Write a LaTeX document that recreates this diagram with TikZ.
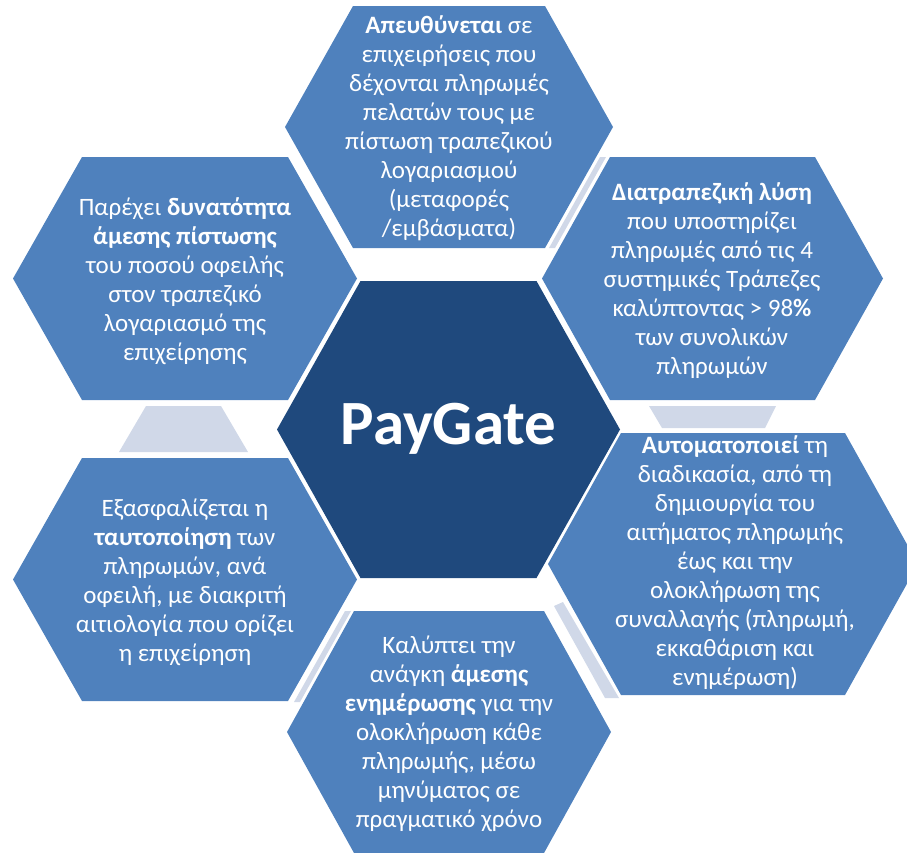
\documentclass[tikz,border=0pt]{standalone}
\usepackage{fontspec}
\setmainfont{Carlito}
\definecolor{hexblue}{RGB}{79,129,189}
\definecolor{hexdark}{RGB}{31,73,125}
\definecolor{connfill}{RGB}{208,216,232}
\newcommand\hexpath[5]{(#1-#3,#2) -- (#1-#3+#5,#2-#4) -- (#1+#3-#5,#2-#4) -- (#1+#3,#2) -- (#1+#3-#5,#2+#4) -- (#1-#3+#5,#2+#4) -- cycle}
\begin{document}
\begin{tikzpicture}[x=1pt,y=-1pt,
  outerhex/.style={fill=hexblue},
  centerhex/.style={fill=hexdark},
  connshape/.style={fill=connfill},
  txt/.style={text=white,align=center,inner sep=0pt,font=\fontsize{25}{29}\selectfont},
  bigtxt/.style={text=white,inner sep=0pt,font=\fontsize{63}{72}\selectfont\bfseries}]
\clip (0,0) rectangle (907,852);
% connectors
\fill[connshape] (146,406) -- (221,406) -- (248,452) -- (119,452) -- cycle;
\fill[connshape] (649,406) -- (776,406) -- (765,428) -- (662,428) -- cycle;
\fill[connshape] (600,157) -- (606,157) -- (555,248) -- (549,248) -- cycle;
\fill[connshape] (345,611) -- (351,611) -- (300,702) -- (294,702) -- cycle;
\fill[connshape] (554,606) -- (563,602) -- (619,698) -- (605,698) -- cycle;
% hexagons
\fill[centerhex] \hexpath{448.5}{429.5}{171.5}{148.5}{83.5};
\fill[outerhex] \hexpath{449}{127}{164}{121}{68};
\fill[outerhex] \hexpath{712.5}{278.5}{170.5}{121.5}{68};
\fill[outerhex] \hexpath{185}{278.5}{172}{121.5}{69};
\fill[outerhex] \hexpath{185}{579.5}{172}{121.5}{69};
\fill[outerhex] \hexpath{449}{732}{162}{121}{67};
\fill[outerhex] \hexpath{733}{564}{185}{131}{73};
% texts
\node[bigtxt] (pg) at (448.5,429) {PayGate};
\node[txt] (t1) at (449,128) {\textbf{Απευθύνεται} σε\\επιχειρήσεις που\\δέχονται πληρωμές\\πελατών τους με\\πίστωση τραπεζικού\\λογαριασμού\\(μεταφορές\\/εμβάσματα)};
\node[txt] (t2) at (712,281) {\textbf{Διατραπεζική λύση}\\που υποστηρίζει\\πληρωμές από τις 4\\συστημικές Τράπεζες\\καλύπτοντας > 98\textbf{\%}\\των συνολικών\\πληρωμών};
\node[txt] (t4) at (185,281) {Παρέχει \textbf{δυνατότητα}\\\textbf{άμεσης πίστωσης}\\του ποσού οφειλής\\στον τραπεζικό\\λογαριασμό της\\επιχείρησης};
\node[txt] (t5) at (185,582) {Εξασφαλίζεται η\\\textbf{ταυτοποίηση} των\\πληρωμών, ανά\\οφειλή, με διακριτή\\αιτιολογία που ορίζει\\η επιχείρηση};
\node[txt] (t6) at (449,734) {Καλύπτει την\\ανάγκη \textbf{άμεσης}\\\textbf{ενημέρωσης} για την\\ολοκλήρωση κάθε\\πληρωμής, μέσω\\μηνύματος σε\\πραγματικό χρόνο};
\node[txt] (t7) at (735,563) {\textbf{Αυτοματοποιεί} τη\\διαδικασία, από τη\\δημιουργία του\\αιτήματος πληρωμής\\έως και την\\ολοκλήρωση της\\συναλλαγής (πληρωμή,\\εκκαθάριση και\\ενημέρωση)};
\end{tikzpicture}
\end{document}
